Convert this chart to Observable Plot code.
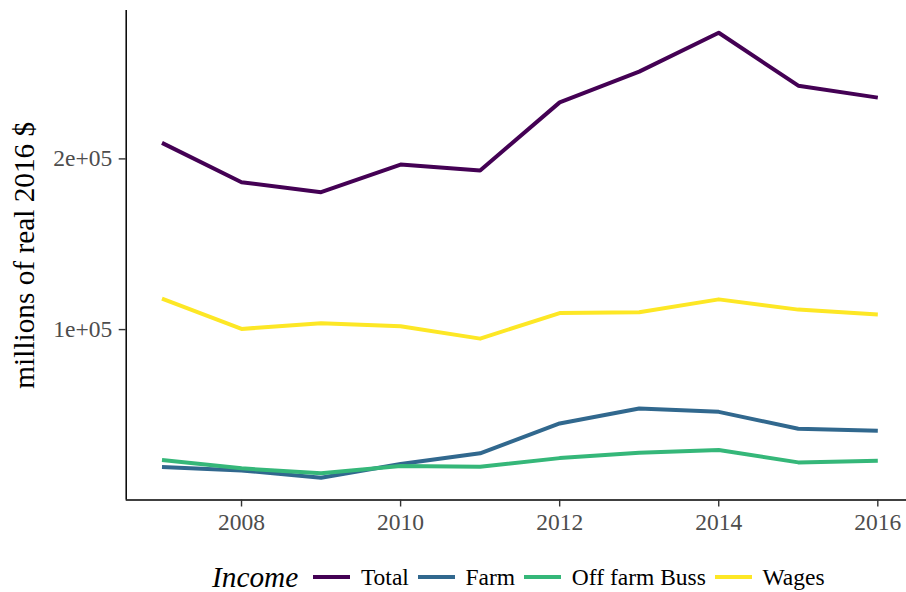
<!DOCTYPE html>
<html>
<head>
<meta charset="utf-8">
<script src="https://cdn.jsdelivr.net/npm/d3@7"></script>
<script src="https://cdn.jsdelivr.net/npm/@observablehq/plot@0.6"></script>
<style>
  html, body { margin: 0; padding: 0; background: #fff; }
  #wrap { position: relative; width: 906px; height: 592px; overflow: hidden; }
  #legend { position: absolute; left: 212px; top: 560px; height: 34px; display: flex; align-items: center;
    font-family: "Liberation Serif", "Times New Roman", serif; font-size: 23.5px; color: #000; white-space: nowrap; }
</style>
</head>
<body>
<div id="wrap"><div id="chart"></div><div id="legend"></div></div>
<script>
const years = [2007, 2008, 2009, 2010, 2011, 2012, 2013, 2014, 2015, 2016];
const total = [209400, 186300, 180500, 196700, 193200, 233100, 251100, 273900, 242900, 235900];
const farm = [19500, 17500, 13200, 21200, 27500, 45000, 53800, 51800, 41900, 40700];
const offFarm = [23600, 18700, 15800, 20100, 19600, 24700, 27800, 29400, 22200, 23200];
const wages = [118100, 100400, 103700, 101900, 94700, 109700, 110100, 117700, 111700, 108800];
const seriesNames = ["Total", "Farm", "Off farm Buss", "Wages"];
const seriesColors = ["#440154", "#31688E", "#35B779", "#FDE725"];
const xTicks = [2008, 2010, 2012, 2014, 2016];
const yTicks = [100000, 200000];
const yTickLabels = ["1e+05", "2e+05"];
const yTitle = "millions of real 2016 $";
const legendTitle = "Income";

const seriesValues = [total, farm, offFarm, wages];
const rows = seriesNames.flatMap((s, k) => years.map((yr, i) => ({year: yr, value: seriesValues[k][i], series: s})));

function expand(ext) { const r = ext[1] - ext[0]; return [ext[0] - 0.05 * r, ext[1] + 0.05 * r]; }
const xDom = expand(d3.extent(years));
const yDom = expand(d3.extent(rows, d => d.value));

const font = "'Liberation Serif', 'Times New Roman', serif";

const chart = Plot.plot({
  width: 906,
  height: 545,
  marginLeft: 125.7,
  marginRight: -7.1,
  marginTop: 10,
  marginBottom: 45.5,
  style: {fontFamily: font, fontSize: "23.5px", background: "white", overflow: "hidden"},
  x: {domain: xDom},
  y: {domain: yDom},
  color: {domain: seriesNames, range: seriesColors},
  marks: [
    Plot.lineY(rows, {x: "year", y: "value", z: "series", stroke: "series", strokeWidth: 4, strokeLinecap: "butt", strokeLinejoin: "round"}),
    Plot.ruleX([xDom[0]], {stroke: "black", strokeWidth: 1.5}),
    Plot.ruleY([yDom[0]], {stroke: "black", strokeWidth: 1.5}),
    Plot.axisX({ticks: xTicks, tickFormat: d => String(d), tickSize: 7, tickPadding: 6, stroke: "#333333", fill: "#4D4D4D", strokeWidth: 1.4, label: null}),
    Plot.axisY({ticks: yTicks, tickFormat: d => yTickLabels[yTicks.indexOf(d)], tickSize: 7, tickPadding: 7, stroke: "#333333", fill: "#4D4D4D", strokeWidth: 1.4, label: null}),
    Plot.text([yTitle], {frameAnchor: "left", text: d => d, rotate: -90, textAnchor: "middle", dx: -101.7, fontSize: 29.3, fill: "black"})
  ]
});
document.getElementById("chart").appendChild(chart);

const legend = document.getElementById("legend");
const t = document.createElement("span");
t.textContent = legendTitle;
t.style.cssText = "font-style: italic; font-size: 29.3px; margin-right: 15px;";
legend.appendChild(t);
seriesNames.forEach((s, i) => {
  const key = document.createElement("span");
  key.style.cssText = `display:inline-block; width:36.7px; height:4px; background:${seriesColors[i]}; margin-right:11px;`;
  legend.appendChild(key);
  const lab = document.createElement("span");
  lab.textContent = s;
  lab.style.cssText = "margin-right: 9px;";
  legend.appendChild(lab);
});
</script>
</body>
</html>
